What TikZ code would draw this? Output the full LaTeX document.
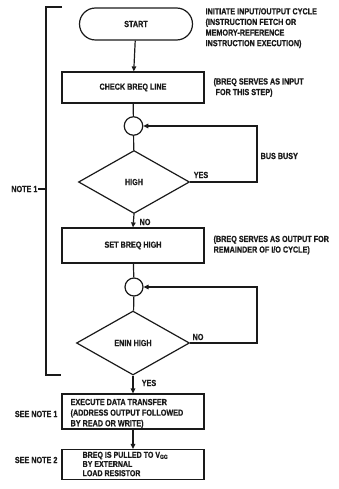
\documentclass[tikz,border=0pt]{standalone}
\usepackage{fontspec}
\setmainfont{Liberation Sans}[FakeStretch=0.82,BoldFeatures={FakeBold=0.6}]
\usepackage{tikz}
\usetikzlibrary{arrows.meta,positioning,shapes.geometric,calc}
\definecolor{ink}{HTML}{1A1A1A}

\begin{document}
\begin{tikzpicture}[x=1pt,y=-1pt,line width=1.2pt,draw=ink,
    every node/.style={font=\fontsize{8.8}{10.6}\selectfont\bfseries,text=ink},
    procbox/.style={draw,rectangle,minimum width=142pt,inner sep=2pt},
    decide/.style={draw,diamond,inner sep=0pt},
    joint/.style={draw,circle,minimum size=18.5pt,inner sep=0pt},
    remark/.style={anchor=west,align=left,inner sep=0pt},
    arr/.style={-{Triangle[length=5pt,width=4.5pt]}}]
  \useasboundingbox (0,0) rectangle (339,489);
  % main flow
  \node[draw,rectangle,rounded corners=16pt,minimum width=113pt,minimum height=32pt]
    (start) at (136,24) {START};
  \node[procbox,minimum height=31pt] (check) at (133,87.5) {CHECK BREQ LINE};
  \node[joint] (busjoin) at (133.5,126) {};
  \node[decide,minimum width=111pt,minimum height=63pt] (high) at (134,182) {HIGH};
  \node[procbox,minimum height=35pt] (setbreq) at (133,245.5) {SET BREQ HIGH};
  \node[joint,minimum size=18pt] (eninjoin) at (134,287) {};
  \node[decide,minimum width=113pt,minimum height=64pt] (enin) at (133,343) {ENIN HIGH};
  \node[procbox,minimum height=35pt] (exec) at (133,411.5) {};
  \node[procbox,minimum height=30pt] (pullup) at (133,464.5) {};
  % box texts
  \node[remark] (exectext) at (70,413.5)
    {EXECUTE DATA TRANSFER\\(ADDRESS OUTPUT FOLLOWED\\BY READ OR WRITE)};
  \node[remark,font=\fontsize{8.6}{9.2}\selectfont\bfseries] (pulltext) at (82,464)
    {BREQ IS PULLED TO V\textsubscript{GG}\\BY EXTERNAL\\LOAD RESISTOR};
  % loop corners
  \coordinate (busR) at (257,126);
  \coordinate (eninR) at (257,287);
  % connectors
  \draw[arr] (start) -- (check);
  \draw (check) -- (busjoin);
  \draw (busjoin) -- (high);
  \draw[arr] (high.east) -| (busR) -- (busjoin.east);
  \draw[arr] (high.south) -- (setbreq.north);
  \draw (setbreq) -- (eninjoin);
  \draw (eninjoin) -- (enin);
  \draw[arr] (enin.east) -| (eninR) -- (eninjoin.east);
  \draw[arr] (enin.south) -- (exec.north);
  \draw[arr] (exec) -- (pullup);
  % branch labels
  \node[inner sep=0pt] (yes1) at (201,175) {YES};
  \node[inner sep=0pt] (no1) at (145,222) {NO};
  \node[remark] (busy) at (260,156) {BUS BUSY};
  \node[inner sep=0pt] (no2) at (198,337) {NO};
  \node[inner sep=0pt] (yes2) at (149,383) {YES};
  % side remarks
  \node[remark] (initnote) at (205,28)
    {INITIATE INPUT/OUTPUT CYCLE\\(INSTRUCTION FETCH OR\\MEMORY-REFERENCE\\INSTRUCTION EXECUTION)};
  \node[remark] (inputnote) at (213,87.5)
    {(BREQ SERVES AS INPUT\\\ FOR THIS STEP)};
  \node[remark] (outputnote) at (213,245)
    {(BREQ SERVES AS OUTPUT FOR\\REMAINDER OF I/O CYCLE)};
  % bracket for note 1
  \draw (62,7) -- (46,7) -- (46,375) -- (61,375);
  \coordinate (tick) at (46,189);
  \node[anchor=east,inner sep=0pt] (note1) at (38,189) {NOTE 1};
  \draw (note1.east) -- (tick);
  \node[anchor=east,inner sep=0pt] (see1) at (58,414) {SEE NOTE 1};
  \node[anchor=east,inner sep=0pt] (see2) at (58,460) {SEE NOTE 2};
\end{tikzpicture}
\end{document}
